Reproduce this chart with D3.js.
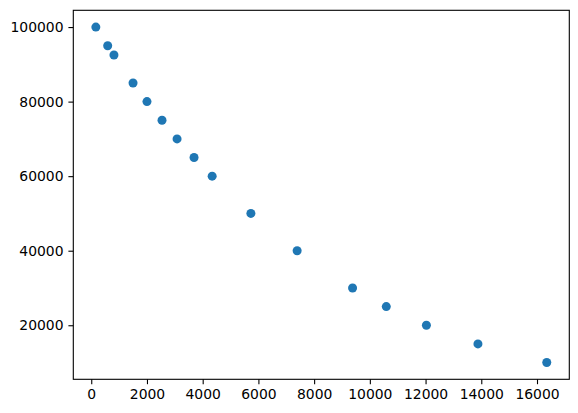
<!DOCTYPE html>
<html>
<head>
<meta charset="utf-8">
<script src="https://cdn.jsdelivr.net/npm/d3@7"></script>
<style>
  body { margin: 0; background: #fff; }
  .tick text { font-family: "DejaVu Sans", sans-serif; font-size: 13.9px; fill: #000; }
</style>
</head>
<body>
<div id="chart"></div>
<script>
var xValues = [165, 590, 815, 1500, 2000, 2540, 3080, 3690, 4340, 5730, 7390, 9380, 10590, 12030, 13880, 16350];
var yValues = [100000, 95000, 92500, 85000, 80000, 75000, 70000, 65000, 60000, 50000, 40000, 30000, 25000, 20000, 15000, 10000];
var xTicks = [0, 2000, 4000, 6000, 8000, 10000, 12000, 14000, 16000];
var yTicks = [20000, 40000, 60000, 80000, 100000];

var width = 578,
    height = 413;
var margin = {left: 73.3, top: 10.3, right: 578 - 569.3, bottom: 413 - 379.3};
var w = width - margin.left - margin.right,
    h = height - margin.top - margin.bottom;

var svg = d3.select("#chart")
    .append("svg")
    .attr("width", width)
    .attr("height", height);

var g = svg.append("g")
    .attr("transform", "translate(" + margin.left + "," + margin.top + ")");

// matplotlib-style 5% margins around the data
var xMin = d3.min(xValues), xMax = d3.max(xValues);
var yMin = d3.min(yValues), yMax = d3.max(yValues);
var xPad = (xMax - xMin) * 0.05, yPad = (yMax - yMin) * 0.05;

var x = d3.scaleLinear().domain([xMin - xPad, xMax + xPad]).range([0, w]);
var y = d3.scaleLinear().domain([yMin - yPad, yMax + yPad]).range([h, 0]);

var data = xValues.map(function(d, i) { return {x: d, y: yValues[i]}; });

g.selectAll(".dot")
    .data(data)
    .enter().append("circle")
    .attr("class", "dot")
    .attr("cx", function(d) { return x(d.x); })
    .attr("cy", function(d) { return y(d.y); })
    .attr("r", 4.5)
    .attr("fill", "#1f77b4");

var xAxis = g.append("g")
    .attr("transform", "translate(0," + h + ")")
    .call(d3.axisBottom(x).tickValues(xTicks).tickFormat(d3.format("d")).tickSize(4.9).tickPadding(4.9));

var yAxis = g.append("g")
    .call(d3.axisLeft(y).tickValues(yTicks).tickFormat(d3.format("d")).tickSize(4.9).tickPadding(4.9));

[xAxis, yAxis].forEach(function(a) {
    a.select(".domain").remove();
    a.selectAll(".tick line").attr("stroke", "#000").attr("stroke-width", 1.1);
});

// frame
g.append("rect")
    .attr("width", w)
    .attr("height", h)
    .attr("fill", "none")
    .attr("stroke", "#000")
    .attr("stroke-width", 1.1);
</script>
</body>
</html>
